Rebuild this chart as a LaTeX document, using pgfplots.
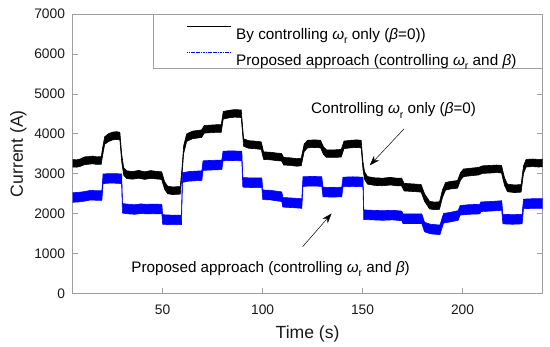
\documentclass[border=0pt]{standalone}
\usepackage{pgfplots}
\pgfplotsset{compat=1.18}
\usepackage{pgfplotstable}
\usepgfplotslibrary{fillbetween}
\usetikzlibrary{arrows.meta}
\usepackage{fontspec}
\setmainfont{Liberation Sans}
\newcommand\omr{\textit{ω}\raisebox{-0.55ex}{\fontsize{10.5}{10.5}\selectfont r}}

\pgfplotstableread{
t lo hi
5 3165 3350
7 3160 3345
9 3185 3370
11 3225 3420
13 3235 3425
15 3245 3440
17 3230 3420
19.3 3235 3425
19.8 3405 3600
21 3735 3925
23 3805 4000
25 3845 4040
27 3855 4050
28.6 3845 4035
29.5 3300 3490
30.5 2960 3150
32 2875 3070
35 2860 3050
38 2885 3080
41 2855 3045
44 2880 3075
47 2865 3055
49.5 2855 3045
51 2605 2795
52.5 2495 2685
55 2475 2665
58.8 2485 2675
59.6 2905 3095
60.5 3505 3695
62 3805 3995
65 3875 4065
68 3895 4085
69.5 3905 4095
70.8 4015 4205
74 4025 4215
77 4035 4225
79.3 4035 4225
80.3 4365 4555
83 4395 4585
86 4415 4605
89.3 4405 4595
90.5 3685 3875
93 3635 3825
96 3625 3815
99.3 3605 3795
100.5 3355 3545
104 3345 3535
107 3325 3515
109.5 3315 3505
110.5 3215 3405
114 3205 3395
117 3185 3375
119.3 3195 3385
120.8 3555 3745
122.5 3645 3835
126 3655 3845
129 3645 3835
130.5 3475 3665
132 3405 3595
136 3405 3595
139.3 3415 3605
140.7 3625 3815
144 3645 3835
147 3655 3845
149.3 3645 3835
150.2 3105 3295
151 2855 3045
152.5 2735 2925
156 2705 2895
160 2695 2885
164 2715 2905
167 2695 2885
169.5 2695 2885
170.8 2565 2755
174 2555 2745
177 2545 2735
179.3 2535 2725
181 2305 2495
183.5 2115 2305
186 2095 2285
188.5 2105 2295
190 2405 2595
191.5 2585 2775
194 2615 2805
197.5 2635 2825
199 2835 3025
200.5 2925 3115
204 2945 3135
208 2965 3155
210 3005 3195
214 3015 3205
217 3025 3215
219.5 3015 3205
221 2705 2895
222.5 2545 2735
226 2525 2715
229.3 2535 2725
230.5 3005 3195
231.8 3165 3355
235 3175 3365
238 3165 3355
240 3170 3360
}\blk

\pgfplotstableread{
t lo hi
5 2280 2520
8 2290 2530
11 2310 2550
14 2340 2580
17 2330 2570
19.6 2330 2570
20.2 2750 2990
23 2760 3000
26 2760 3000
29.5 2750 2990
29.9 2010 2250
33 1990 2230
36 1980 2220
39 2000 2240
42 1990 2230
45 1995 2235
49.6 1990 2230
50 1730 1970
54 1720 1960
59.4 1720 1960
59.9 2780 3020
63 2810 3050
66 2820 3060
69.6 2830 3070
70.2 3080 3320
74 3090 3330
79.6 3100 3340
80.2 3320 3560
84 3330 3570
89.6 3320 3560
90.1 2660 2900
95 2650 2890
99.6 2650 2890
100.1 2350 2590
104 2340 2580
109.6 2300 2540
110.1 2160 2400
114 2150 2390
119.6 2130 2370
120.2 2680 2920
125 2690 2930
129.6 2680 2920
130.2 2420 2660
135 2410 2650
139.6 2420 2660
140.2 2670 2910
145 2680 2920
150.2 2670 2910
150.6 1850 2090
155 1840 2080
160 1830 2070
165 1840 2080
169.6 1820 2060
170.2 1750 1990
175 1750 1990
179.6 1750 1990
181 1540 1780
184 1490 1730
188.7 1470 1710
190.5 1760 2000
194 1790 2030
197.8 1830 2070
198.8 1960 2200
203 1980 2220
208.6 1990 2230
209.2 2050 2290
214 2060 2300
219.6 2080 2320
220.2 1740 1980
225 1730 1970
229.8 1740 1980
230.5 2120 2360
235 2130 2370
240 2130 2370
}\blu

\begin{document}
\begin{tikzpicture}
\begin{axis}[
  at={(0pt,0pt)}, anchor=south west,
  scale only axis, width=469.8pt, height=279.3pt,
  xmin=5, xmax=240, ymin=0, ymax=7000,
  xtick={50,100,150,200},
  ytick={0,1000,2000,3000,4000,5000,6000,7000},
  scaled y ticks=false,
  /pgf/number format/1000 sep={},
  /pgf/number format/assume math mode=true,
  axis line style={gray!75},
  tick style={gray!75, line width=0.5pt},
  major tick length=5pt,
  tick align=inside,
  xtick pos=both, ytick pos=both,
  tick label style={font=\fontsize{13.8}{16}\selectfont, text=black!90},
  yticklabel style={inner sep=0pt, xshift=-7.5pt},
  xticklabel style={inner sep=0pt, yshift=-11pt},
  xlabel={Time (s)},
  ylabel={Current (A)},
  label style={font=\fontsize{17.6}{20}\selectfont, text=black!90},
  xlabel style={at={(axis description cs:0.5,-0.161)}, anchor=base},
  ylabel style={at={(axis description cs:-0.1158,0.5)}, anchor=center},
  clip=false,
]
\addplot[name path=bh, black, line width=0.6pt, forget plot] table[x=t,y=hi]{\blk};
\addplot[name path=bl, black, line width=0.6pt, forget plot] table[x=t,y=lo]{\blk};
\addplot[black, forget plot] fill between[of=bh and bl];
\addplot[name path=uh, blue, line width=0.6pt, forget plot] table[x=t,y=hi]{\blu};
\addplot[name path=ul, blue, line width=0.6pt, forget plot] table[x=t,y=lo]{\blu};
\addplot[blue, forget plot] fill between[of=uh and ul];

% legend box
\draw[gray!75, fill=white, line width=0.5pt] (axis description cs:0.1716,0.8056) rectangle (axis description cs:1,1);
\draw[black, line width=1pt] (axis description cs:0.2439,0.9545) -- (axis description cs:0.3370,0.9545);
\draw[blue, line width=1pt, dash pattern=on 1.2pt off 0.5pt] (axis description cs:0.2439,0.8629) -- (axis description cs:0.3370,0.8629);
\node[anchor=base west, inner sep=0pt, font=\fontsize{15.3}{18}\selectfont] at (axis description cs:0.3476,0.9086) {By controlling \omr{} only (\textit{β}=0))};
\node[anchor=base west, inner sep=0pt, font=\fontsize{15.3}{18}\selectfont] at (axis description cs:0.3476,0.8171) {Proposed approach (controlling \omr{} and \textit{β})};

\node[anchor=base, font=\fontsize{15.2}{18}\selectfont] at (axis cs:165.5,4500) {Controlling \omr{} only (\textit{β}=0)};
\draw[-{Stealth[length=10pt,width=7pt]}, line width=0.5pt] (axis cs:170.8,4125) -- (axis cs:153.6,3207);
\node[anchor=base, font=\fontsize{15.2}{18}\selectfont] at (axis cs:104,520) {Proposed approach (controlling \omr{} and \textit{β})};
\draw[-{Stealth[length=10pt,width=7pt]}, line width=0.5pt] (axis cs:120,1165) -- (axis cs:134.5,2000);
\end{axis}
\pgfresetboundingbox
\useasboundingbox (-72.7pt,-53.7pt) rectangle (477.3pt,293.3pt);
\end{tikzpicture}
\end{document}
